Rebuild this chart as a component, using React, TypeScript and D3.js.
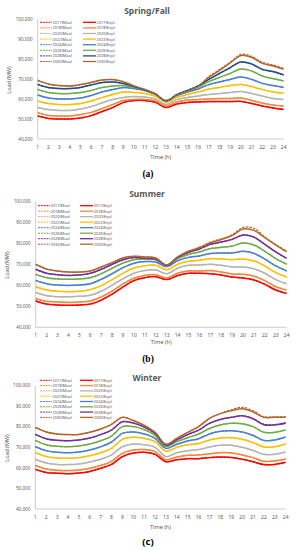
import React, { useEffect, useRef } from 'react';
import * as d3 from 'd3';

const hours = d3.range(1, 25);
const years = ['2017', '2018', '2020', '2022', '2024', '2026', '2028', '2030'];
const yTicks = [40000, 50000, 60000, 70000, 80000, 90000, 100000];

const colorsSpring = ['#FF0000', '#F4883A', '#B4B4B4', '#FFC000', '#4A7FD4', '#70AD47', '#1F4E8C', '#B5652B'];
const colorsOther = ['#FF0000', '#F4883A', '#B4B4B4', '#FFC000', '#4A7FD4', '#70AD47', '#7030A0', '#B5652B'];

// Spring/Fall, expected load (MW)
const springExp2017 = [51500, 50300, 50000, 50000, 50500, 51700, 53700, 55700, 58200, 59200, 59200, 58300, 55800, 57500, 58300, 58500, 58700, 58700, 58700, 58800, 57800, 56500, 55500, 54800];
const springExp2018 = [53200, 51800, 51500, 51500, 52200, 53300, 55200, 57200, 59200, 59800, 59800, 59000, 56500, 58500, 59500, 59700, 60000, 60200, 60300, 60500, 59300, 58000, 57000, 56500];
const springExp2020 = [55800, 54700, 54300, 54300, 55000, 56200, 58000, 59700, 60800, 61200, 61000, 60000, 57300, 59700, 60800, 61500, 62300, 62700, 63200, 63800, 62800, 61500, 60300, 59700];
const springExp2022 = [59000, 57700, 57200, 57200, 57700, 59000, 60700, 62200, 63500, 63300, 62800, 61300, 58500, 60800, 62300, 63500, 65000, 65800, 66700, 67300, 66200, 64700, 63500, 63000];
const springExp2024 = [62000, 60500, 60000, 60000, 60500, 61800, 63500, 64700, 65700, 65200, 64200, 62300, 59200, 61700, 63500, 65000, 67200, 68500, 69800, 71000, 69800, 67800, 66700, 65800];
const springExp2026 = [64800, 63200, 62700, 62700, 63200, 64300, 65700, 66500, 66700, 65800, 64700, 62500, 59200, 62000, 64000, 66000, 68700, 70800, 72800, 75000, 74000, 71500, 70200, 69000];
const springExp2028 = [67300, 65700, 65200, 65200, 65800, 67000, 68200, 68500, 67800, 66200, 64500, 62500, 59000, 62200, 64300, 66500, 69800, 72800, 75700, 78500, 77500, 74800, 73700, 72000];
const springExp2030 = [69300, 67500, 66700, 66500, 67200, 68300, 69500, 69700, 68700, 66500, 64800, 62500, 58800, 62000, 64200, 66300, 70800, 74300, 78000, 81800, 80800, 77800, 76500, 74800];
const springMax2030 = [69300, 67500, 66700, 66500, 67200, 68300, 69500, 69700, 68700, 66500, 64800, 62500, 58800, 62000, 64200, 66300, 71200, 74700, 78400, 82300, 81300, 78300, 77000, 75300];

// Summer
const summerExp2017 = [52600, 51100, 50700, 50500, 50700, 51100, 53000, 55800, 59300, 62300, 63700, 64200, 62800, 64700, 65800, 65800, 65600, 65000, 64000, 63500, 62600, 60500, 57800, 56200];
const summerExp2018 = [53800, 52400, 52100, 51900, 52100, 52600, 54500, 57300, 60700, 63400, 64800, 65100, 63600, 65800, 66900, 66900, 67100, 66400, 65500, 65300, 64400, 62300, 59400, 57800];
const summerExp2020 = [56600, 55100, 54600, 54600, 54800, 55300, 57200, 60100, 63200, 65800, 67100, 67400, 65600, 68200, 69600, 69800, 70100, 69600, 68800, 68800, 68000, 65800, 62800, 60800];
const summerExp2022 = [59400, 57800, 57200, 57000, 57200, 58000, 59900, 62800, 65800, 68300, 69400, 69600, 67500, 70100, 71500, 72000, 72800, 72600, 72300, 72600, 71700, 69300, 66100, 64000];
const summerExp2024 = [62400, 60800, 60200, 60000, 60200, 60800, 62900, 65600, 68500, 70600, 71400, 71200, 69000, 71800, 73400, 74100, 75300, 75500, 75500, 76300, 75300, 72600, 69300, 66900];
const summerExp2026 = [65300, 63700, 63100, 62900, 63100, 63700, 65600, 68200, 70700, 72300, 72600, 72300, 69600, 72800, 74800, 76000, 77600, 78200, 78800, 80300, 79300, 76300, 72800, 70100];
const summerExp2028 = [67700, 65800, 65100, 64800, 65000, 65800, 67700, 70100, 72300, 73300, 72900, 72500, 69600, 73300, 75800, 77400, 79600, 80700, 82000, 84100, 83100, 79600, 76000, 72900];
const summerExp2030 = [70100, 67800, 66900, 66400, 66400, 66900, 68800, 70900, 73100, 73900, 73600, 73100, 69800, 73600, 76300, 78000, 80300, 81900, 83800, 87000, 86300, 82800, 79300, 76100];
const summerMax2030 = [70100, 67800, 66900, 66400, 66400, 66900, 68800, 70900, 73100, 73900, 73600, 73100, 69800, 73600, 76300, 78300, 80700, 82300, 84200, 87700, 87300, 83100, 79600, 76400];

// Winter
const winterExp2017 = [59300, 57800, 57400, 57200, 57500, 58300, 59800, 61700, 65500, 67200, 67600, 66600, 63000, 64000, 64500, 64500, 65000, 65300, 65100, 64200, 63000, 61600, 61700, 62700];
const winterExp2018 = [61200, 59500, 58800, 58700, 59000, 59800, 61200, 63200, 67100, 68700, 68900, 67900, 64000, 65300, 66100, 66300, 66900, 67400, 67300, 66300, 65000, 63200, 63400, 64300];
const winterExp2020 = [64200, 62400, 61700, 61600, 61900, 62900, 64200, 66300, 70300, 71600, 71300, 70000, 65500, 67400, 68400, 68900, 70200, 71000, 71000, 70000, 68500, 66600, 66600, 67700];
const winterExp2022 = [67400, 65600, 64800, 64700, 65000, 65900, 67400, 69500, 73900, 74900, 74400, 72800, 68100, 70000, 71300, 71900, 73600, 74500, 74700, 73900, 72300, 70200, 70300, 71600];
const winterExp2024 = [70300, 68400, 67600, 67400, 67700, 68700, 70300, 72600, 76800, 77500, 76500, 74400, 69500, 71500, 73100, 74200, 76500, 77800, 78100, 77500, 75800, 73400, 73600, 75000];
const winterExp2026 = [73400, 71300, 70500, 70300, 70700, 71600, 73200, 75500, 80100, 80100, 78600, 75800, 70500, 72800, 74700, 76500, 79200, 80900, 81700, 81500, 80100, 77300, 77300, 78400];
const winterExp2028 = [76300, 74200, 73400, 73200, 73600, 74500, 76200, 78400, 82500, 81800, 79900, 76800, 71000, 73700, 76200, 78400, 81700, 83600, 84600, 85400, 83900, 81000, 80900, 81700];
const winterExp2030 = [79700, 77500, 76500, 76200, 76300, 77300, 78900, 81200, 84600, 83100, 80700, 77300, 71500, 74400, 77300, 80100, 84100, 86400, 87800, 88800, 87200, 84600, 84600, 84600];
const winterMax2028 = [76300, 74200, 73400, 73200, 73600, 74500, 76200, 78400, 82500, 81800, 79900, 76800, 71000, 73700, 76200, 78400, 81700, 83600, 84600, 85400, 84000, 81300, 81100, 82000];
const winterMax2030 = [79700, 77500, 76500, 76200, 76300, 77300, 78900, 81200, 84600, 83100, 80700, 77300, 71500, 74400, 77300, 80100, 84100, 86500, 88300, 89500, 87800, 84900, 84900, 84900];

const springExp = [springExp2017, springExp2018, springExp2020, springExp2022, springExp2024, springExp2026, springExp2028, springExp2030];
const springMax = [springExp2017, springExp2018, springExp2020, springExp2022, springExp2024, springExp2026, springExp2028, springMax2030];
const summerExp = [summerExp2017, summerExp2018, summerExp2020, summerExp2022, summerExp2024, summerExp2026, summerExp2028, summerExp2030];
const summerMax = [summerExp2017, summerExp2018, summerExp2020, summerExp2022, summerExp2024, summerExp2026, summerExp2028, summerMax2030];
const winterExp = [winterExp2017, winterExp2018, winterExp2020, winterExp2022, winterExp2024, winterExp2026, winterExp2028, winterExp2030];
const winterMax = [winterExp2017, winterExp2018, winterExp2020, winterExp2022, winterExp2024, winterExp2026, winterMax2028, winterMax2030];

const panels = [
  { title: 'Spring/Fall', caption: '(a)', captionFont: 'Liberation Serif, serif', exp: springExp, max: springMax, colors: colorsSpring,
    titleY: 11, x0: 37.7, x1: 283.7, yTop: 19, yBot: 139, tickY: 147, axisTitleY: 157.5, captionY: 174,
    labelX: 9, labelY: 80, legX1: 40, legX2: 83, legY: 22.3, legDy: 5.6 },
  { title: 'Summer', caption: '(b)', captionFont: 'Liberation Serif, serif', exp: summerExp, max: summerMax, colors: colorsOther,
    titleY: 194, x0: 35.7, x1: 286.7, yTop: 201.7, yBot: 327.3, tickY: 335.7, axisTitleY: 342.5, captionY: 358.5,
    labelX: 7, labelY: 265, legX1: 38, legX2: 80, legY: 205.7, legDy: 5.5 },
  { title: 'Winter', caption: '(c)', captionFont: 'Noto Sans, sans-serif', exp: winterExp, max: winterMax, colors: colorsOther,
    titleY: 378.3, x0: 35.3, x1: 285.7, yTop: 385.7, yBot: 509, tickY: 517.7, axisTitleY: 527.3, captionY: 542,
    labelX: 7, labelY: 448, legX1: 40, legX2: 80, legY: 380.3, legDy: 5.3 },
];

const font = 'Noto Sans, sans-serif';
const textGray = '#595959';

export default function App() {
  const ref = useRef<SVGSVGElement>(null);

  useEffect(() => {
    const svg = d3.select(ref.current);
    svg.selectAll('*').remove();
    svg.append('rect').attr('width', 297).attr('height', 550).attr('fill', '#fff');

    panels.forEach((p) => {
      const g = svg.append('g');
      const x = d3.scalePoint<number>().domain(hours).range([p.x0, p.x1]);
      const y = d3.scaleLinear().domain([40000, 100000]).range([p.yBot, p.yTop]);

      g.append('text')
        .attr('x', 147).attr('y', p.titleY).attr('dy', '0.35em')
        .attr('text-anchor', 'middle')
        .style('font-family', font).style('font-size', '8.5px').style('font-weight', 'bold')
        .attr('fill', textGray).text(p.title);

      // axes
      g.append('line').attr('x1', p.x0).attr('x2', p.x0).attr('y1', p.yTop).attr('y2', p.yBot)
        .attr('stroke', '#BFBFBF').attr('stroke-width', 0.8);
      g.append('line').attr('x1', p.x0).attr('x2', p.x1).attr('y1', p.yBot).attr('y2', p.yBot)
        .attr('stroke', '#BFBFBF').attr('stroke-width', 0.8);

      g.selectAll('.ytick').data(yTicks).enter().append('text')
        .attr('x', p.x0 - 5).attr('y', (d) => y(d)).attr('dy', '0.35em')
        .attr('text-anchor', 'end')
        .style('font-family', font).style('font-size', '4.6px')
        .attr('fill', textGray).text((d) => d3.format(',')(d));

      g.selectAll('.xtick').data(hours).enter().append('text')
        .attr('x', (d) => x(d) as number).attr('y', p.tickY).attr('dy', '0.35em')
        .attr('text-anchor', 'middle')
        .style('font-family', font).style('font-size', '5px')
        .attr('fill', textGray).text((d) => d);

      g.append('text')
        .attr('x', (p.x0 + p.x1) / 2).attr('y', p.axisTitleY).attr('dy', '0.35em')
        .attr('text-anchor', 'middle')
        .style('font-family', font).style('font-size', '5.5px')
        .attr('fill', textGray).text('Time (h)');

      g.append('text')
        .attr('transform', `translate(${p.labelX},${p.labelY}) rotate(-90)`)
        .attr('dy', '0.35em').attr('text-anchor', 'middle')
        .style('font-family', font).style('font-size', '5.5px')
        .attr('fill', textGray).text('Load (MW)');

      g.append('text')
        .attr('x', 148).attr('y', p.captionY).attr('dy', '0.35em')
        .attr('text-anchor', 'middle')
        .style('font-family', p.captionFont).style('font-size', '9.5px').style('font-weight', 'bold')
        .attr('fill', '#000').text(p.caption);

      const line = d3.line<number>()
        .x((d, i) => x(hours[i]) as number)
        .y((d) => y(d))
        .curve(d3.curveCatmullRom.alpha(0.5));

      p.exp.forEach((s, i) => {
        g.append('path').attr('d', line(s)).attr('fill', 'none')
          .attr('stroke', p.colors[i]).attr('stroke-width', 1.5);
      });
      p.max.forEach((s, i) => {
        g.append('path').attr('d', line(s)).attr('fill', 'none')
          .attr('stroke', p.colors[i]).attr('stroke-width', 1.2)
          .attr('stroke-dasharray', '2.5,1.2');
      });

      // legend
      years.forEach((yr, i) => {
        const ly = p.legY + i * p.legDy;
        g.append('line').attr('x1', p.legX1).attr('x2', p.legX1 + 12).attr('y1', ly).attr('y2', ly)
          .attr('stroke', p.colors[i]).attr('stroke-width', 1).attr('stroke-dasharray', '2,0.8');
        g.append('text').attr('x', p.legX1 + 12.5).attr('y', ly).attr('dy', '0.35em')
          .style('font-family', font).style('font-size', '4px')
          .attr('fill', textGray).text(`${yr}(Max)`);
        g.append('line').attr('x1', p.legX2).attr('x2', p.legX2 + 13).attr('y1', ly).attr('y2', ly)
          .attr('stroke', p.colors[i]).attr('stroke-width', 1.3);
        g.append('text').attr('x', p.legX2 + 13.5).attr('y', ly).attr('dy', '0.35em')
          .style('font-family', font).style('font-size', '4px')
          .attr('fill', textGray).text(`${yr}(Exp)`);
      });
    });
  });

  return (
    <div style={{ position: 'absolute', left: 0, top: 0 }}>
      <svg ref={ref} width={297} height={550}></svg>
    </div>
  );
}
